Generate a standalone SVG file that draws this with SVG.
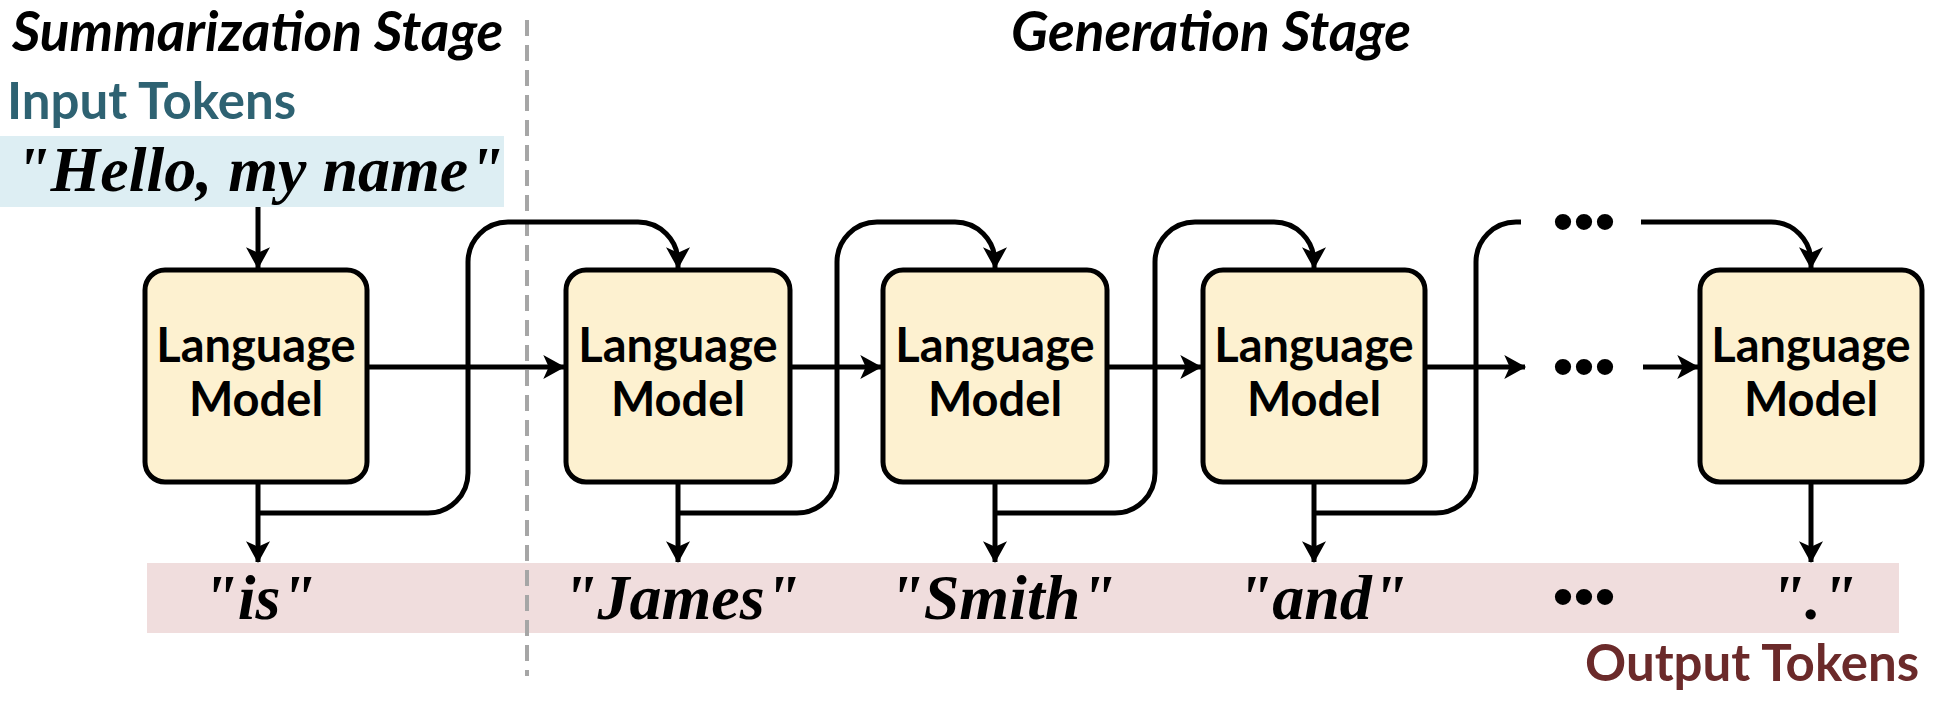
<svg xmlns="http://www.w3.org/2000/svg" width="1946" height="728" viewBox="0 0 1946 728">
<defs>
<marker id="ah" markerUnits="userSpaceOnUse" markerWidth="24" markerHeight="24" viewBox="0 0 20 22" refX="19" refY="11" orient="auto">
<path d="M0,0 L20,11 L0,22 L5,11 Z" fill="#000"/>
</marker>
<style>
.box{fill:#fdf1d0;stroke:#000;stroke-width:5}
.lm{font-family:Lato,"Open Sans",sans-serif;font-weight:bold;font-size:47px;text-anchor:middle;fill:#000}
.stage{font-family:Lato,"Open Sans",sans-serif;font-weight:bold;font-style:italic;font-size:55px;fill:#000}
.tok{font-family:"Liberation Serif","Times New Roman",serif;font-weight:bold;font-style:italic;font-size:64px;fill:#000}
.lbl{font-family:Lato,"Open Sans",sans-serif;font-weight:bold;font-size:51px}
.dots{font-family:"Liberation Sans",Arial,sans-serif;font-size:60px;text-anchor:middle;fill:#000}
.c{fill:none;stroke:#000;stroke-width:5}
</style>
</defs>
<rect width="1946" height="728" fill="#fff"/>
<g id="bands">
<rect x="0" y="136" width="504" height="71" fill="#ddeef3"/>
<rect x="147" y="563" width="1752" height="70" fill="#f0dddd"/>
</g>
<line id="divider" x1="527" y1="20" x2="527" y2="676" stroke="#a6a6a6" stroke-width="4" stroke-dasharray="16,9"/>
<g id="titles">
<text class="stage" x="12" y="51">Summarization Stage</text>
<text class="stage" x="1011" y="51">Generation Stage</text>
<text class="lbl" x="7" y="119" fill="#2e6272">Input Tokens</text>
<text class="lbl" x="1585" y="681" fill="#6b2a2a">Output Tokens</text>
<text class="tok" x="15" y="191">"Hello, my name"</text>
</g>
<g id="outputs">
<text class="tok" x="259" y="619" text-anchor="middle">"is"</text>
<text class="tok" x="681" y="619" text-anchor="middle">"James"</text>
<text class="tok" x="1002" y="619" text-anchor="middle">"Smith"</text>
<text class="tok" x="1322" y="619" text-anchor="middle">"and"</text>
<text class="dots" x="1584" y="617">•••</text>
<text class="tok" x="1813" y="619" text-anchor="middle">"."</text>
</g>
<g id="connectors">
<path class="c" d="M258,207 V268" marker-end="url(#ah)"/>
<path class="c" d="M367,367 H564" marker-end="url(#ah)"/>
<path class="c" d="M790,367 H881" marker-end="url(#ah)"/>
<path class="c" d="M1107,367 H1201" marker-end="url(#ah)"/>
<path class="c" d="M1425,367 H1525" marker-end="url(#ah)"/>
<path class="c" d="M1643,367 H1698" marker-end="url(#ah)"/>
<path class="c" d="M258,482 V562" marker-end="url(#ah)"/>
<path class="c" d="M678,482 V562" marker-end="url(#ah)"/>
<path class="c" d="M995,482 V562" marker-end="url(#ah)"/>
<path class="c" d="M1314,482 V562" marker-end="url(#ah)"/>
<path class="c" d="M1811,482 V562" marker-end="url(#ah)"/>
<path class="c" d="M258,513 H428 A40,40 0 0 0 468,473 V262 A40,40 0 0 1 508,222 H638 A40,40 0 0 1 678,262 V268" marker-end="url(#ah)"/>
<path class="c" d="M678,513 H797 A40,40 0 0 0 837,473 V262 A40,40 0 0 1 877,222 H955 A40,40 0 0 1 995,262 V268" marker-end="url(#ah)"/>
<path class="c" d="M995,513 H1115 A40,40 0 0 0 1155,473 V262 A40,40 0 0 1 1195,222 H1274 A40,40 0 0 1 1314,262 V268" marker-end="url(#ah)"/>
<path class="c" d="M1314,513 H1436 A40,40 0 0 0 1476,473 V262 A40,40 0 0 1 1516,222 H1521"/>
<path class="c" d="M1641,222 H1771 A40,40 0 0 1 1811,262 V268" marker-end="url(#ah)"/>
<text class="dots" x="1584" y="242">•••</text>
<text class="dots" x="1584" y="387">•••</text>
</g>
<g id="lm1">
<rect class="box" x="145" y="270" width="222" height="212" rx="20"/>
<text class="lm" x="256" y="362">Language</text>
<text class="lm" x="256" y="416">Model</text>
</g>
<g id="lm2">
<rect class="box" x="566" y="270" width="224" height="212" rx="20"/>
<text class="lm" x="678" y="362">Language</text>
<text class="lm" x="678" y="416">Model</text>
</g>
<g id="lm3">
<rect class="box" x="883" y="270" width="224" height="212" rx="20"/>
<text class="lm" x="995" y="362">Language</text>
<text class="lm" x="995" y="416">Model</text>
</g>
<g id="lm4">
<rect class="box" x="1203" y="270" width="222" height="212" rx="20"/>
<text class="lm" x="1314" y="362">Language</text>
<text class="lm" x="1314" y="416">Model</text>
</g>
<g id="lm5">
<rect class="box" x="1700" y="270" width="222" height="212" rx="20"/>
<text class="lm" x="1811" y="362">Language</text>
<text class="lm" x="1811" y="416">Model</text>
</g>
</svg>
